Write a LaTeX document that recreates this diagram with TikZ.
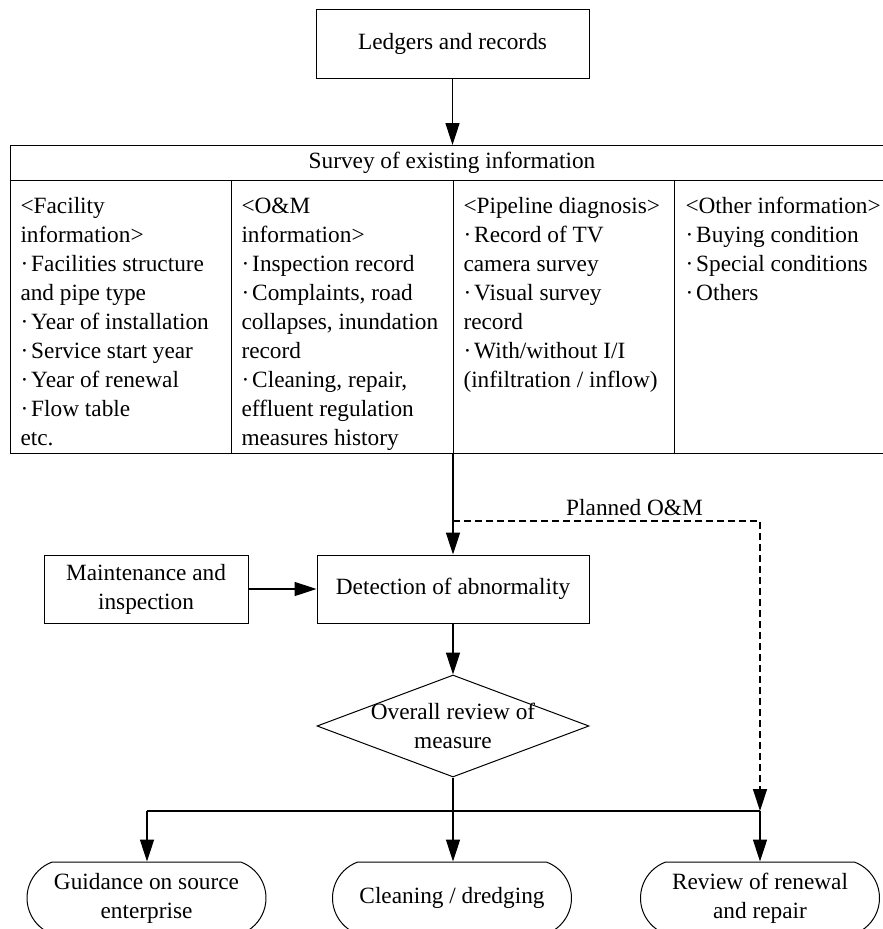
\documentclass[tikz,border=0pt]{standalone}
\usepackage{fontspec}
\setmainfont{Liberation Serif}
\usetikzlibrary{shapes.geometric,shapes.misc,arrows.meta}

% strut that fixes the first baseline of the multi-line column texts
\newcommand\firststrut{\rule{0pt}{20pt}}
% bullet used in the column lists
\newcommand\dotitem{·\kern3pt}

\begin{document}
\begin{tikzpicture}[x=1pt, y=-1pt, line width=1pt,
  txt/.style={font=\fontsize{23.3}{29}\selectfont, inner sep=0pt, align=center},
  rectbox/.style={txt, draw, rectangle},
  coltext/.style={txt, align=left, anchor=north west},
  oval/.style={txt, draw, rounded rectangle, rounded rectangle arc length=140,
               minimum width=239pt, minimum height=72pt},
  decision/.style={draw, diamond, minimum width=272pt, minimum height=102pt, inner sep=0pt},
  link/.style={line width=1.6pt},
  flow/.style={link, -{Triangle[length=22pt,width=14pt]}},
  planned/.style={flow, line width=1.3pt, dash pattern=on 7pt off 4pt}
]
\useasboundingbox (0,0) rectangle (883,929);
\clip (0,0) rectangle (883,929);

% source box
\node[rectbox, minimum width=273pt, minimum height=69pt] (ledger) at (452.5,43.5) {Ledgers and records};

% survey table
\node[draw, rectangle, inner sep=0pt, minimum width=880pt, minimum height=308pt, anchor=north west] (table) at (10,145) {};
\node[txt] (survey) at (452,162.5) {Survey of existing information};
\coordinate (hdrL) at (10,180);
\coordinate (hdrR) at (890,180);
\draw (hdrL) -- (hdrR);
\coordinate (div1) at (231,180);
\coordinate (div2) at (453,180);
\coordinate (div3) at (674,180);
\draw (div1) -- (div1 |- table.south);
\draw (div2) -- (div2 |- table.south);
\draw (div3) -- (div3 |- table.south);

\node[coltext] (colfac) at (20,193) {\firststrut<Facility\\information>\\\dotitem Facilities structure\\and pipe type\\\dotitem Year of installation\\\dotitem Service start year\\\dotitem Year of renewal\\\dotitem Flow table\\etc.};
\node[coltext] (colom) at (241,193) {\firststrut<O\&M\\information>\\\dotitem Inspection record\\\dotitem Complaints, road\\collapses, inundation\\record\\\dotitem Cleaning, repair,\\effluent regulation\\measures history};
\node[coltext] (colpipe) at (463,193) {\firststrut<Pipeline diagnosis>\\\dotitem Record of TV\\camera survey\\\dotitem Visual survey\\record\\\dotitem With/without I/I\\(infiltration / inflow)};
\node[coltext] (colother) at (685,193) {\firststrut<Other information>\\\dotitem Buying condition\\\dotitem Special conditions\\\dotitem Others};

\draw[flow] (ledger.south) -- (ledger.south |- table.north);

% detection stage
\node[rectbox, minimum width=204pt, minimum height=68pt] (maint) at (146,589) {Maintenance and\\inspection};
\node[rectbox, minimum width=272pt, minimum height=68pt] (detect) at (453,589) {Detection of abnormality};
\draw[flow] (detect.north |- table.south) -- (detect.north);
\draw[flow] (maint.east) -- (detect.west);

% decision
\node[decision] (review) at (453,726) {};
\node[txt] (reviewtxt) at (review.center) {Overall review of\\measure};
\draw[flow] (detect.south) -- (review.north);

% measures
\node[oval] (guide) at (146.5,898) {Guidance on source\\enterprise};
\node[oval] (clean) at (452,898) {Cleaning / dredging};
\node[oval] (renew) at (760,898) {Review of renewal\\and repair};

\coordinate (busL) at (147,811);
\coordinate (busM) at (453,811);
\coordinate (busR) at (760,811);
\draw[link] (review.south) -- (busM);
\draw[link] (busL) -- (busR);
\draw[flow] (busL) -- (guide.north -| busL);
\draw[flow] (busM) -- (clean.north -| busM);
\draw[flow] (busR) -- (renew.north);

% planned O&M route
\coordinate (split) at (453,521);
\coordinate (pcorner) at (760,521);
\draw[planned] (split) -- (pcorner) -- (busR);
\node[txt] (plannedlbl) at (634.5,508) {Planned O\&M};
\end{tikzpicture}
\end{document}
